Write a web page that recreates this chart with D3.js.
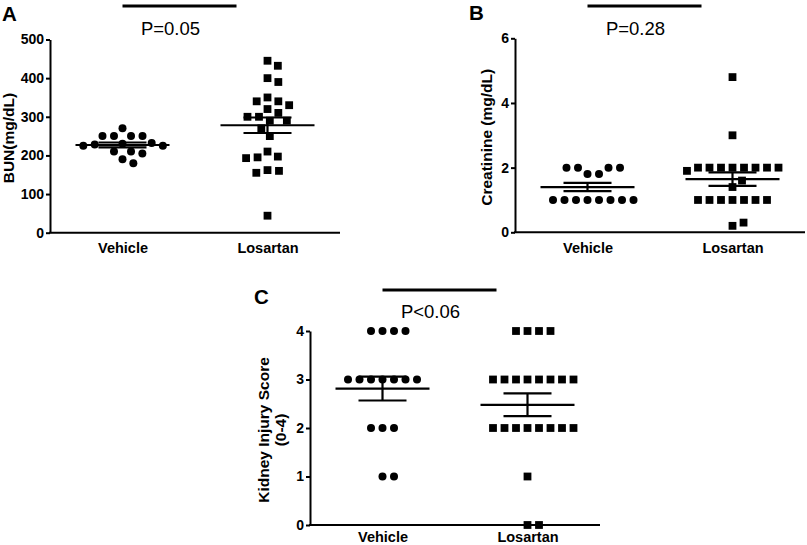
<!DOCTYPE html>
<html>
<head>
<meta charset="utf-8">
<script src="https://cdn.jsdelivr.net/npm/d3@7"></script>
<style>
  html, body { margin: 0; padding: 0; background: #fff; }
  svg { display: block; }
  text { font-family: "Liberation Sans", Arial, Helvetica, sans-serif; fill: #000; }
</style>
</head>
<body>
<svg id="chart" width="807" height="545"></svg>
<script>
// ---------------- data ----------------
const groups = ["Vehicle", "Losartan"];

const bunVehicle  = [270, 250, 250, 250, 250, 232, 230, 228, 225, 225, 210, 210, 205, 190, 180];
const bunLosartan = [445, 432, 400, 390, 350, 340, 340, 330, 320, 310, 300, 300, 290, 290, 270, 250, 210, 197, 195, 193, 162, 160, 155, 44];

const creatVehicle  = [1.8, 1.8, 2.0, 2.0, 2.0, 2.0, 1.0, 1.0, 1.0, 1.0, 1.0, 1.0, 1.0, 1.0];
const creatLosartan = [4.8, 3.0, 2.0, 2.0, 2.0, 2.0, 2.0, 2.0, 2.0, 2.0, 1.9, 1.4, 1.6, 1.0, 1.0, 1.0, 1.0, 1.0, 1.0, 1.0, 0.2, 0.3];

const injuryVehicle  = [4, 4, 4, 4, 3, 3, 3, 3, 3, 3, 3, 2, 2, 2, 1, 1];
const injuryLosartan = [4, 4, 4, 4, 3, 3, 3, 3, 3, 3, 3, 3, 2, 2, 2, 2, 2, 2, 2, 2, 1, 0, 0];

const bunTicks    = [0, 100, 200, 300, 400, 500];
const creatTicks  = [0, 2, 4, 6];
const injuryTicks = [0, 1, 2, 3, 4];

const panelLetters = ["A", "B", "C"];
const pLabels      = ["P=0.05", "P=0.28", "P<0.06"];
const yTitles      = [["BUN(mg/dL)"], ["Creatinine (mg/dL)"], ["Kidney Injury Score", "(0-4)"]];

// ---------------- layout ----------------
const panels = [
  { letter: panelLetters[0], p: pLabels[0], title: yTitles[0], vals: [bunVehicle, bunLosartan], ticks: bunTicks,
    domain: [0, 500], x0: 50, yTop: 39.5, yBot: 232.7, letterX: 2, letterY: 21, pY: 35, barY: 6, titleX: [8], catPad: 10 },
  { letter: panelLetters[1], p: pLabels[1], title: yTitles[1], vals: [creatVehicle, creatLosartan], ticks: creatTicks,
    domain: [0, 6], x0: 515, yTop: 38.3, yBot: 232.3, letterX: 469, letterY: 19.5, pY: 35, barY: 6, titleX: [486], catPad: 10 },
  { letter: panelLetters[2], p: pLabels[2], title: yTitles[2], vals: [injuryVehicle, injuryLosartan], ticks: injuryTicks,
    domain: [0, 4], x0: 310, yTop: 331, yBot: 525, letterX: 254, letterY: 304, pY: 318, barY: 290, titleX: [263, 280], catPad: 7 }
];

const svg = d3.select("#chart");
const AXW = 290;      // axis length
const D = 11.5;       // swarm spacing
const R = 4;          // circle radius
const SQ = 7.8;       // square side

function swarm(values, y, cx) {
  const placed = [];
  return values.map(v => {
    const py = y(v);
    const cands = [0];
    placed.forEach(p => {
      const dy = Math.abs(p.y - py);
      if (dy < D) {
        const dx = Math.sqrt(D * D - dy * dy);
        cands.push(p.dx + dx, p.dx - dx);
      }
    });
    cands.sort((a, b) => (Math.abs(a) - Math.abs(b)) || (b - a));
    const best = cands.find(c => placed.every(p => (p.dx - c) ** 2 + (p.y - py) ** 2 >= D * D - 0.01));
    placed.push({ dx: best, y: py });
    return { v, x: cx + best, y: py };
  });
}

panels.forEach((P) => {
  const g = svg.append("g");
  const x = d3.scalePoint().domain(groups).range([P.x0, P.x0 + AXW]).padding(0.5);
  const y = d3.scaleLinear().domain(P.domain).range([P.yBot, P.yTop]);

  // y axis
  const ya = g.append("g").attr("transform", `translate(${P.x0},0)`)
    .call(d3.axisLeft(y).tickValues(P.ticks).tickSize(4).tickSizeOuter(0).tickPadding(2).tickFormat(d3.format("d")));
  ya.select(".domain").attr("stroke", "#000").attr("stroke-width", 2);
  ya.selectAll(".tick line").attr("stroke", "#000").attr("stroke-width", 2);
  ya.selectAll(".tick text").attr("font-size", 14).attr("font-weight", "bold")
    .attr("font-family", '"Liberation Sans", Arial, sans-serif').attr("fill", "#000");

  // x axis
  const xa = g.append("g").attr("transform", `translate(0,${P.yBot})`)
    .call(d3.axisBottom(x).tickSize(0).tickSizeOuter(0).tickPadding(P.catPad));
  xa.select(".domain").attr("stroke", "#000").attr("stroke-width", 2)
    .attr("d", `M${P.x0 - 1},0H${P.x0 + AXW}`);
  xa.selectAll(".tick text").attr("font-size", 14.5).attr("font-weight", "bold")
    .attr("font-family", '"Liberation Sans", Arial, sans-serif').attr("fill", "#000");

  // y title
  const midY = (P.yTop + P.yBot) / 2;
  P.title.forEach((t, i) => {
    g.append("text")
      .attr("transform", `translate(${P.titleX[i]},${midY + 2}) rotate(-90)`)
      .attr("text-anchor", "middle").attr("dy", "0.36em")
      .attr("font-size", 15.5).attr("font-weight", "bold").text(t);
  });

  // panel letter
  g.append("text").attr("x", P.letterX).attr("y", P.letterY)
    .attr("font-size", 20.5).attr("font-weight", "bold").text(P.letter);

  // significance bar and p label
  const xv = x(groups[0]);
  g.append("line").attr("x1", xv).attr("x2", xv + 114).attr("y1", P.barY).attr("y2", P.barY)
    .attr("stroke", "#000").attr("stroke-width", 3);
  g.append("text").attr("x", xv + 48).attr("y", P.pY).attr("text-anchor", "middle")
    .attr("font-size", 18.5).text(P.p);

  // points
  P.vals.forEach((vals, gi) => {
    const cx = x(groups[gi]);
    const pts = swarm(vals, y, cx);
    if (gi === 0) {
      g.selectAll(null).data(pts).enter().append("circle")
        .attr("cx", d => d.x).attr("cy", d => d.y).attr("r", R).attr("fill", "#000");
    } else {
      g.selectAll(null).data(pts).enter().append("rect")
        .attr("x", d => d.x - SQ / 2).attr("y", d => d.y - SQ / 2)
        .attr("width", SQ).attr("height", SQ).attr("fill", "#000");
    }
    // mean +/- SEM
    const m = d3.mean(vals);
    const sem = d3.deviation(vals) / Math.sqrt(vals.length);
    const sw = 2.2;
    g.append("line").attr("x1", cx - 47).attr("x2", cx + 47).attr("y1", y(m)).attr("y2", y(m))
      .attr("stroke", "#000").attr("stroke-width", sw);
    [m - sem, m + sem].forEach(v => {
      g.append("line").attr("x1", cx - 24).attr("x2", cx + 24).attr("y1", y(v)).attr("y2", y(v))
        .attr("stroke", "#000").attr("stroke-width", sw);
    });
    g.append("line").attr("x1", cx).attr("x2", cx).attr("y1", y(m - sem)).attr("y2", y(m + sem))
      .attr("stroke", "#000").attr("stroke-width", sw);
  });
});
</script>
</body>
</html>
